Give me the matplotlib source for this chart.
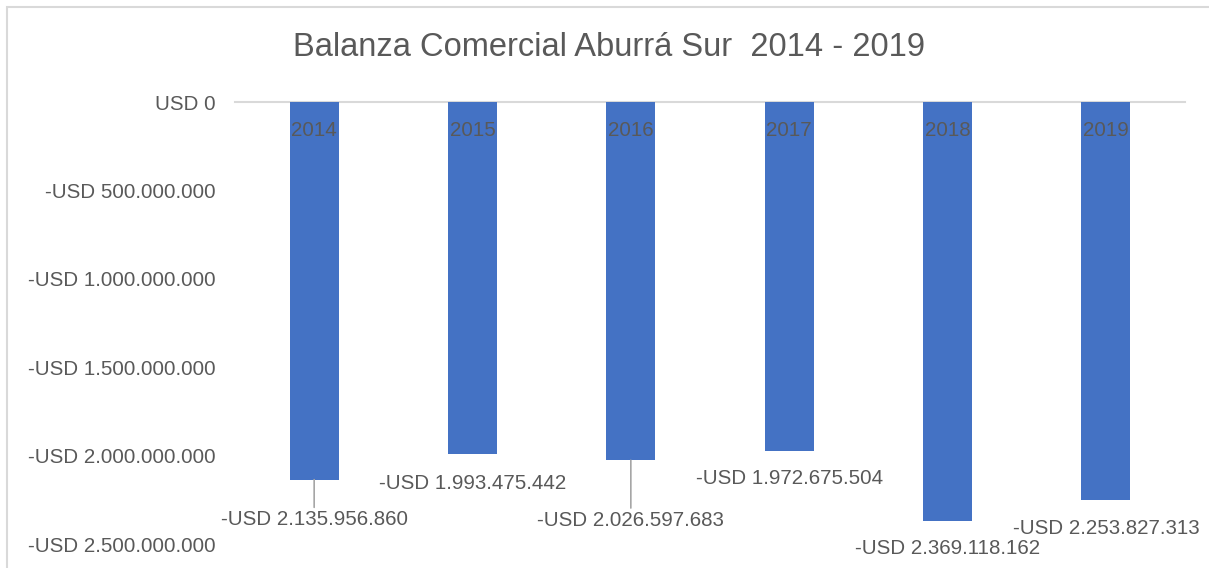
import numpy as np
import matplotlib.pyplot as plt
from matplotlib.patches import Rectangle

years = ['2014', '2015', '2016', '2017', '2018', '2019']
balanza = [-2135956860, -1993475442, -2026597683, -1972675504, -2369118162, -2253827313]
value_labels = ['-USD 2.135.956.860', '-USD 1.993.475.442', '-USD 2.026.597.683',
                '-USD 1.972.675.504', '-USD 2.369.118.162', '-USD 2.253.827.313']
yticks = [0, -500e6, -1000e6, -1500e6, -2000e6, -2500e6]
ytick_labels = ['USD 0', '-USD 500.000.000', '-USD 1.000.000.000', '-USD 1.500.000.000',
                '-USD 2.000.000.000', '-USD 2.500.000.000']
# label offsets (pixels) and which ones get a leader line
label_dy = [-40, -29, -60, -28, -28, -28]
leader = [True, False, True, False, False, False]

plt.rcParams['font.family'] = ['Liberation Sans', 'DejaVu Sans']
gray = '#595959'

fig = plt.figure(figsize=(12.09, 5.68), dpi=100)
# chart frame
fig.patches.append(Rectangle((7/1209, -0.1), 1.2, 1 - 7/568 + 0.1, transform=fig.transFigure,
                             fill=False, edgecolor='#d9d9d9', linewidth=1.5))
ax = fig.add_axes([235/1209, 1 - 544/568, 950/1209, 442/568])

x = np.arange(len(years))
ax.bar(x, balanza, width=0.31, color='#4472C4', zorder=2)
ax.set_axisbelow(False)
ax.set_xlim(-0.5, len(years) - 0.5)
ax.set_ylim(-2.5e9, 0)

ax.set_yticks(yticks, ytick_labels)
ax.tick_params(axis='y', length=0, pad=14, labelsize=14.8, labelcolor=gray)
ax.set_xticks(x, years)
ax.xaxis.tick_top()
ax.tick_params(axis='x', length=0, pad=-27, labelsize=14.8, labelcolor=gray)

for s in ['left', 'right', 'bottom']:
    ax.spines[s].set_visible(False)
ax.spines['top'].set_color('#d9d9d9')
ax.spines['top'].set_linewidth(1.5)
ax.spines['top'].set_zorder(1)

for i, v in enumerate(balanza):
    arrow = dict(arrowstyle='-', color='#a6a6a6', lw=1.2, shrinkA=0, shrinkB=0) if leader[i] else None
    ax.annotate(value_labels[i], xy=(i, v), xytext=(0, label_dy[i]), textcoords='offset pixels',
                ha='center', va='center', fontsize=14.8, color=gray, arrowprops=arrow,
                annotation_clip=False)

fig.text(0.504, 1 - 48/568, 'Balanza Comercial Aburrá Sur  2014 - 2019', ha='center', va='center',
         fontsize=23.5, color=gray)

fig.savefig('out.png', dpi=100)
